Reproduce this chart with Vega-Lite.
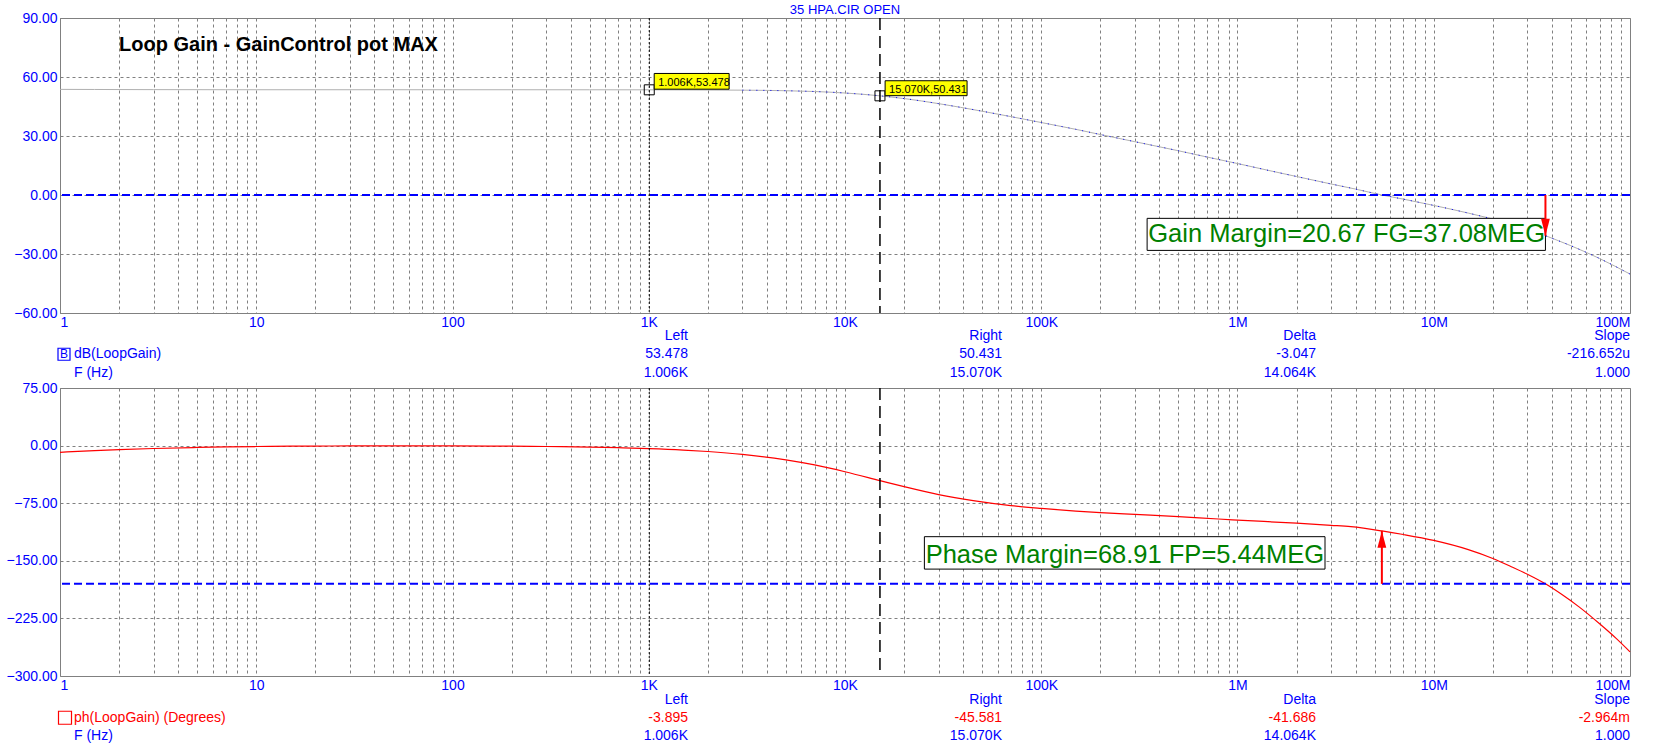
{
  "$schema": "https://vega.github.io/schema/vega-lite/v6.json",
  "background": "white",
  "padding": {"left": 5, "top": 3, "right": 30, "bottom": 0},
  "bounds": "flush",
  "spacing": 0,
  "config": {
    "font": "Liberation Sans",
    "view": {"stroke": "#808080", "strokeWidth": 1},
    "axis": {
      "labelFont": "Liberation Sans",
      "labelFontSize": 14,
      "labelColor": "#0000ff",
      "ticks": false,
      "tickSize": 0,
      "domain": false,
      "gridColor": "#808080",
      "gridDash": [3, 3],
      "gridWidth": 1,
      "gridOpacity": 1,
      "labelOverlap": false
    },
    "text": {"font": "Liberation Sans"}
  },
  "datasets": {
    "gain": [
      {"f": 1, "db": 53.70}, {"f": 1.5, "db": 53.66}, {"f": 2, "db": 53.62}, {"f": 3, "db": 53.58},
      {"f": 5, "db": 53.55}, {"f": 7, "db": 53.53}, {"f": 10, "db": 53.52}, {"f": 20, "db": 53.52},
      {"f": 50, "db": 53.52}, {"f": 100, "db": 53.52}, {"f": 200, "db": 53.52}, {"f": 500, "db": 53.50},
      {"f": 1006, "db": 53.478}, {"f": 1500, "db": 53.43}, {"f": 2000, "db": 53.39}, {"f": 3000, "db": 53.31},
      {"f": 5000, "db": 53.02}, {"f": 7000, "db": 52.62}, {"f": 10000, "db": 51.86}, {"f": 15070, "db": 50.431},
      {"f": 20000, "db": 49.05}, {"f": 30000, "db": 46.45}, {"f": 50000, "db": 42.60}, {"f": 70000, "db": 39.86},
      {"f": 100000, "db": 36.85}, {"f": 150000, "db": 33.40}, {"f": 200000, "db": 30.75}, {"f": 300000, "db": 27.10},
      {"f": 500000, "db": 22.50}, {"f": 700000, "db": 19.30}, {"f": 1000000, "db": 16.00}, {"f": 1500000, "db": 12.10},
      {"f": 2000000, "db": 9.40}, {"f": 3000000, "db": 5.60}, {"f": 4000000, "db": 3.00}, {"f": 5440000, "db": 0.00},
      {"f": 7000000, "db": -2.10}, {"f": 10000000, "db": -5.30}, {"f": 15000000, "db": -9.20}, {"f": 20000000, "db": -12.20},
      {"f": 30000000, "db": -17.00}, {"f": 37080000, "db": -20.67}, {"f": 50000000, "db": -25.80}, {"f": 70000000, "db": -32.30},
      {"f": 100000000, "db": -40.20}
    ],
    "phase": [
      {"f": 1, "deg": -8.7}, {"f": 1.5, "deg": -6.6}, {"f": 2, "deg": -5.3}, {"f": 3, "deg": -3.8},
      {"f": 5, "deg": -2.4}, {"f": 7, "deg": -1.7}, {"f": 10, "deg": -1.2}, {"f": 15, "deg": -0.8},
      {"f": 20, "deg": -0.6}, {"f": 30, "deg": -0.4}, {"f": 50, "deg": -0.3}, {"f": 100, "deg": -0.4},
      {"f": 200, "deg": -0.8}, {"f": 300, "deg": -1.2}, {"f": 500, "deg": -1.9}, {"f": 700, "deg": -2.7},
      {"f": 1006, "deg": -3.895}, {"f": 1500, "deg": -5.8}, {"f": 2000, "deg": -7.7}, {"f": 3000, "deg": -11.4},
      {"f": 5000, "deg": -18.6}, {"f": 7000, "deg": -25.2}, {"f": 10000, "deg": -34.1}, {"f": 15070, "deg": -45.581},
      {"f": 20000, "deg": -53.5}, {"f": 30000, "deg": -63.8}, {"f": 45000, "deg": -71.7}, {"f": 70000, "deg": -78.2},
      {"f": 100000, "deg": -81.8}, {"f": 150000, "deg": -85.2}, {"f": 200000, "deg": -87.3}, {"f": 300000, "deg": -89.6},
      {"f": 500000, "deg": -92.5}, {"f": 800000, "deg": -95.6}, {"f": 1000000, "deg": -97.0}, {"f": 2000000, "deg": -101.0},
      {"f": 3000000, "deg": -103.8}, {"f": 3780000, "deg": -105.6}, {"f": 5440000, "deg": -111.09}, {"f": 7000000, "deg": -115.8},
      {"f": 10000000, "deg": -123.5}, {"f": 15000000, "deg": -135.5}, {"f": 20000000, "deg": -147.0}, {"f": 25000000, "deg": -158.0},
      {"f": 30000000, "deg": -167.5}, {"f": 37080000, "deg": -180.0}, {"f": 45000000, "deg": -194.0}, {"f": 55000000, "deg": -210.0},
      {"f": 70000000, "deg": -232.0}, {"f": 85000000, "deg": -251.0}, {"f": 100000000, "deg": -268.5}
    ],
    "cursors": [
      {"f": 1006, "cursor": "Left"},
      {"f": 15070, "cursor": "Right"}
    ],
    "levels": [
      {"panel": "gain", "level": 0},
      {"panel": "phase", "level": -180}
    ],
    "markers": [
      {"f": 1006, "db": 53.478, "x1": 1066, "x2": 2568, "y1": 53.8, "y2": 61.8, "label": "1.006K,53.478"},
      {"f": 15070, "db": 50.431, "x1": 16010, "x2": 41880, "y1": 50.5, "y2": 58.1, "label": "15.070K,50.431"}
    ],
    "margins": [
      {"panel": "gain", "x1": 346300, "x2": 37080000, "y1": -28.17, "y2": -11.87, "tx": 3600000, "ty": -23.98, "label": "Gain Margin=20.67 FG=37.08MEG", "af": 37080000, "a0": 0, "a1": -20.67},
      {"panel": "phase", "x1": 25380, "x2": 2792000, "y1": -160.8, "y2": -118.6, "tx": 266600, "ty": -153.4, "label": "Phase Margin=68.91 FP=5.44MEG", "af": 5440000, "a0": -180, "a1": -111.09}
    ],
    "notes": [
      {"note": "plot", "f": 2, "db": 73.3, "text": "Loop Gain - GainControl pot MAX"},
      {"note": "file", "f": 10000, "db": 92.0, "text": "35 HPA.CIR OPEN"}
    ],
    "readout": [
      {"panel": "gain", "col": "Left", "row": "hdr", "kind": "header", "text": "Left"},
      {"panel": "gain", "col": "Right", "row": "hdr", "kind": "header", "text": "Right"},
      {"panel": "gain", "col": "Delta", "row": "hdr", "kind": "header", "text": "Delta"},
      {"panel": "gain", "col": "Slope", "row": "hdr", "kind": "header", "text": "Slope"},
      {"panel": "gain", "col": "label", "row": "val", "kind": "gain", "text": "dB(LoopGain)", "icon": "B"},
      {"panel": "gain", "col": "Left", "row": "val", "kind": "gain", "text": "53.478"},
      {"panel": "gain", "col": "Right", "row": "val", "kind": "gain", "text": "50.431"},
      {"panel": "gain", "col": "Delta", "row": "val", "kind": "gain", "text": "-3.047"},
      {"panel": "gain", "col": "Slope", "row": "val", "kind": "gain", "text": "-216.652u"},
      {"panel": "gain", "col": "label", "row": "f", "kind": "freq", "text": "F (Hz)"},
      {"panel": "gain", "col": "Left", "row": "f", "kind": "freq", "text": "1.006K"},
      {"panel": "gain", "col": "Right", "row": "f", "kind": "freq", "text": "15.070K"},
      {"panel": "gain", "col": "Delta", "row": "f", "kind": "freq", "text": "14.064K"},
      {"panel": "gain", "col": "Slope", "row": "f", "kind": "freq", "text": "1.000"},
      {"panel": "phase", "col": "Left", "row": "hdr", "kind": "header", "text": "Left"},
      {"panel": "phase", "col": "Right", "row": "hdr", "kind": "header", "text": "Right"},
      {"panel": "phase", "col": "Delta", "row": "hdr", "kind": "header", "text": "Delta"},
      {"panel": "phase", "col": "Slope", "row": "hdr", "kind": "header", "text": "Slope"},
      {"panel": "phase", "col": "label", "row": "val", "kind": "phase", "text": "ph(LoopGain) (Degrees)", "icon": ""},
      {"panel": "phase", "col": "Left", "row": "val", "kind": "phase", "text": "-3.895"},
      {"panel": "phase", "col": "Right", "row": "val", "kind": "phase", "text": "-45.581"},
      {"panel": "phase", "col": "Delta", "row": "val", "kind": "phase", "text": "-41.686"},
      {"panel": "phase", "col": "Slope", "row": "val", "kind": "phase", "text": "-2.964m"},
      {"panel": "phase", "col": "label", "row": "f", "kind": "freq", "text": "F (Hz)"},
      {"panel": "phase", "col": "Left", "row": "f", "kind": "freq", "text": "1.006K"},
      {"panel": "phase", "col": "Right", "row": "f", "kind": "freq", "text": "15.070K"},
      {"panel": "phase", "col": "Delta", "row": "f", "kind": "freq", "text": "14.064K"},
      {"panel": "phase", "col": "Slope", "row": "f", "kind": "freq", "text": "1.000"}
    ]
  },
  "vconcat": [
    {
      "width": 1570,
      "height": 295,
      "layer": [
        {
          "data": {"name": "gain"},
          "mark": {"type": "line", "color": "#b0b0b0", "strokeWidth": 1, "interpolate": "monotone"},
          "encoding": {
            "x": {
              "field": "f", "type": "quantitative",
              "scale": {"type": "log", "domain": [1, 100000000], "nice": false},
              "axis": {
                "title": null, "grid": true, "labelFlush": true, "labelPadding": 2,
                "values": [1,2,3,4,5,6,7,8,9,10,20,30,40,50,60,70,80,90,100,200,300,400,500,600,700,800,900,1000,2000,3000,4000,5000,6000,7000,8000,9000,10000,20000,30000,40000,50000,60000,70000,80000,90000,100000,200000,300000,400000,500000,600000,700000,800000,900000,1000000,2000000,3000000,4000000,5000000,6000000,7000000,8000000,9000000,10000000,20000000,30000000,40000000,50000000,60000000,70000000,80000000,90000000,100000000],
                "labelExpr": "indexof([1,10,100,1000,10000,100000,1000000,10000000,100000000], datum.value) < 0 ? '' : datum.value >= 1000000 ? (datum.value / 1000000) + 'M' : datum.value >= 1000 ? (datum.value / 1000) + 'K' : '' + datum.value"
              }
            },
            "y": {
              "field": "db", "type": "quantitative",
              "scale": {"domain": [-60, 90], "nice": false, "zero": false},
              "axis": {"title": null, "grid": true, "values": [-60, -30, 0, 30, 60, 90], "format": ".2f", "labelPadding": 3}
            }
          }
        },
        {
          "data": {"name": "gain"},
          "transform": [{"filter": "datum.f >= 3000"}],
          "mark": {"type": "line", "color": "#0000ff", "strokeWidth": 1, "strokeDash": [1, 6], "interpolate": "monotone"},
          "encoding": {
            "x": {"field": "f", "type": "quantitative"},
            "y": {"field": "db", "type": "quantitative"}
          }
        },
        {
          "data": {"name": "levels"},
          "transform": [{"filter": "datum.panel == 'gain'"}],
          "mark": {"type": "rule", "color": "#0000ff", "strokeWidth": 2, "strokeDash": [8, 4]},
          "encoding": {"y": {"field": "level", "type": "quantitative"}}
        },
        {
          "data": {"name": "cursors"},
          "transform": [{"filter": "datum.cursor == 'Left'"}],
          "mark": {"type": "rule", "color": "#000000", "strokeWidth": 1, "strokeDash": [2, 2]},
          "encoding": {"x": {"field": "f", "type": "quantitative"}}
        },
        {
          "data": {"name": "cursors"},
          "transform": [{"filter": "datum.cursor == 'Right'"}],
          "mark": {"type": "rule", "color": "#000000", "strokeWidth": 1.5, "strokeDash": [12, 6]},
          "encoding": {"x": {"field": "f", "type": "quantitative"}}
        },
        {
          "data": {"name": "markers"},
          "mark": {"type": "point", "shape": "square", "size": 100, "filled": false, "color": "#000000", "strokeWidth": 1, "opacity": 1},
          "encoding": {
            "x": {"field": "f", "type": "quantitative"},
            "y": {"field": "db", "type": "quantitative"}
          }
        },
        {
          "data": {"name": "markers"},
          "mark": {"type": "rect", "fill": "#ffff00", "stroke": "#000000", "strokeWidth": 1},
          "encoding": {
            "x": {"field": "x1", "type": "quantitative"},
            "x2": {"field": "x2"},
            "y": {"field": "y1", "type": "quantitative"},
            "y2": {"field": "y2"}
          }
        },
        {
          "data": {"name": "markers"},
          "mark": {"type": "text", "align": "left", "baseline": "alphabetic", "dx": 4, "dy": -3, "fontSize": 11, "color": "#000000"},
          "encoding": {
            "x": {"field": "x1", "type": "quantitative"},
            "y": {"field": "y1", "type": "quantitative"},
            "text": {"field": "label"}
          }
        },
        {
          "data": {"name": "notes"},
          "transform": [{"filter": "datum.note == 'plot'"}],
          "mark": {"type": "text", "align": "left", "baseline": "alphabetic", "fontSize": 20, "fontWeight": "bold", "color": "#000000"},
          "encoding": {
            "x": {"field": "f", "type": "quantitative"},
            "y": {"field": "db", "type": "quantitative"},
            "text": {"field": "text"}
          }
        },
        {
          "data": {"name": "notes"},
          "transform": [{"filter": "datum.note == 'file'"}],
          "mark": {"type": "text", "align": "center", "baseline": "alphabetic", "fontSize": 13, "color": "#0000ff", "clip": false},
          "encoding": {
            "x": {"field": "f", "type": "quantitative"},
            "y": {"field": "db", "type": "quantitative"},
            "text": {"field": "text"}
          }
        },
        {
          "data": {"name": "margins"},
          "transform": [{"filter": "datum.panel == 'gain'"}],
          "mark": {"type": "rect", "fill": "#ffffff", "stroke": "#000000", "strokeWidth": 1},
          "encoding": {
            "x": {"field": "x1", "type": "quantitative"},
            "x2": {"field": "x2"},
            "y": {"field": "y1", "type": "quantitative"},
            "y2": {"field": "y2"}
          }
        },
        {
          "data": {"name": "margins"},
          "transform": [{"filter": "datum.panel == 'gain'"}],
          "mark": {"type": "text", "align": "center", "baseline": "alphabetic", "fontSize": 25.5, "color": "#008000"},
          "encoding": {
            "x": {"field": "tx", "type": "quantitative"},
            "y": {"field": "ty", "type": "quantitative"},
            "text": {"field": "label"}
          }
        },
        {
          "data": {"name": "margins"},
          "transform": [{"filter": "datum.panel == 'gain'"}],
          "mark": {"type": "rule", "color": "#ff0000", "strokeWidth": 2},
          "encoding": {
            "x": {"field": "af", "type": "quantitative"},
            "y": {"field": "a0", "type": "quantitative"},
            "y2": {"field": "a1"}
          }
        },
        {
          "data": {"name": "margins"},
          "transform": [{"filter": "datum.panel == 'gain'"}],
          "mark": {"type": "point", "shape": "M0,0L-0.55,-2.1L0.55,-2.1Z", "size": 256, "filled": true, "color": "#ff0000", "opacity": 1},
          "encoding": {
            "x": {"field": "af", "type": "quantitative"},
            "y": {"field": "a1", "type": "quantitative"}
          }
        }
      ]
    },
    {
      "width": 1570,
      "height": 75,
      "view": {"stroke": null},
      "data": {"name": "readout"},
      "transform": [{"filter": "datum.panel == 'gain'"}],
      "encoding": {
        "x": {"field": "col", "type": "nominal", "scale": {"type": "point", "domain": ["label", "gap", "Left", "Right", "Delta", "Slope"], "padding": 0}, "axis": null},
        "y": {"field": "row", "type": "nominal", "scale": {"type": "point", "domain": ["hdr", "val", "f"], "padding": 1.4, "align": 0.6}, "axis": null},
        "color": {"field": "kind", "type": "nominal", "scale": {"domain": ["header", "gain", "phase", "freq"], "range": ["#0000ff", "#0000ff", "#ff0000", "#0000ff"]}, "legend": null}
      },
      "layer": [
        {
          "transform": [{"filter": "datum.col != 'label'"}],
          "mark": {"type": "text", "align": "right", "baseline": "middle", "fontSize": 14},
          "encoding": {"text": {"field": "text"}}
        },
        {
          "transform": [{"filter": "datum.col == 'label'"}],
          "mark": {"type": "text", "align": "left", "baseline": "middle", "fontSize": 14, "dx": 14},
          "encoding": {"text": {"field": "text"}}
        },
        {
          "transform": [{"filter": "isValid(datum.icon)"}],
          "mark": {"type": "point", "shape": "square", "size": 144, "filled": false, "strokeWidth": 1.2, "xOffset": 4, "opacity": 1}
        },
        {
          "transform": [{"filter": "isValid(datum.icon)"}],
          "mark": {"type": "text", "align": "center", "baseline": "middle", "fontSize": 12, "dx": 4},
          "encoding": {"text": {"field": "icon"}}
        }
      ]
    },
    {
      "width": 1570,
      "height": 288,
      "layer": [
        {
          "data": {"name": "phase"},
          "mark": {"type": "line", "color": "#ff0000", "strokeWidth": 1.2, "interpolate": "monotone"},
          "encoding": {
            "x": {
              "field": "f", "type": "quantitative",
              "scale": {"type": "log", "domain": [1, 100000000], "nice": false},
              "axis": {
                "title": null, "grid": true, "labelFlush": true, "labelPadding": 2,
                "values": [1,2,3,4,5,6,7,8,9,10,20,30,40,50,60,70,80,90,100,200,300,400,500,600,700,800,900,1000,2000,3000,4000,5000,6000,7000,8000,9000,10000,20000,30000,40000,50000,60000,70000,80000,90000,100000,200000,300000,400000,500000,600000,700000,800000,900000,1000000,2000000,3000000,4000000,5000000,6000000,7000000,8000000,9000000,10000000,20000000,30000000,40000000,50000000,60000000,70000000,80000000,90000000,100000000],
                "labelExpr": "indexof([1,10,100,1000,10000,100000,1000000,10000000,100000000], datum.value) < 0 ? '' : datum.value >= 1000000 ? (datum.value / 1000000) + 'M' : datum.value >= 1000 ? (datum.value / 1000) + 'K' : '' + datum.value"
              }
            },
            "y": {
              "field": "deg", "type": "quantitative",
              "scale": {"domain": [-300, 75], "nice": false, "zero": false},
              "axis": {"title": null, "grid": true, "values": [-300, -225, -150, -75, 0, 75], "format": ".2f", "labelPadding": 3}
            }
          }
        },
        {
          "data": {"name": "levels"},
          "transform": [{"filter": "datum.panel == 'phase'"}],
          "mark": {"type": "rule", "color": "#0000ff", "strokeWidth": 2, "strokeDash": [8, 4]},
          "encoding": {"y": {"field": "level", "type": "quantitative"}}
        },
        {
          "data": {"name": "cursors"},
          "transform": [{"filter": "datum.cursor == 'Left'"}],
          "mark": {"type": "rule", "color": "#000000", "strokeWidth": 1, "strokeDash": [2, 2]},
          "encoding": {"x": {"field": "f", "type": "quantitative"}}
        },
        {
          "data": {"name": "cursors"},
          "transform": [{"filter": "datum.cursor == 'Right'"}],
          "mark": {"type": "rule", "color": "#000000", "strokeWidth": 1.5, "strokeDash": [12, 6]},
          "encoding": {"x": {"field": "f", "type": "quantitative"}}
        },
        {
          "data": {"name": "margins"},
          "transform": [{"filter": "datum.panel == 'phase'"}],
          "mark": {"type": "rect", "fill": "#ffffff", "stroke": "#000000", "strokeWidth": 1},
          "encoding": {
            "x": {"field": "x1", "type": "quantitative"},
            "x2": {"field": "x2"},
            "y": {"field": "y1", "type": "quantitative"},
            "y2": {"field": "y2"}
          }
        },
        {
          "data": {"name": "margins"},
          "transform": [{"filter": "datum.panel == 'phase'"}],
          "mark": {"type": "text", "align": "center", "baseline": "alphabetic", "fontSize": 25.5, "color": "#008000"},
          "encoding": {
            "x": {"field": "tx", "type": "quantitative"},
            "y": {"field": "ty", "type": "quantitative"},
            "text": {"field": "label"}
          }
        },
        {
          "data": {"name": "margins"},
          "transform": [{"filter": "datum.panel == 'phase'"}],
          "mark": {"type": "rule", "color": "#ff0000", "strokeWidth": 2},
          "encoding": {
            "x": {"field": "af", "type": "quantitative"},
            "y": {"field": "a0", "type": "quantitative"},
            "y2": {"field": "a1"}
          }
        },
        {
          "data": {"name": "margins"},
          "transform": [{"filter": "datum.panel == 'phase'"}],
          "mark": {"type": "point", "shape": "M0,0L-0.55,2.1L0.55,2.1Z", "size": 256, "filled": true, "color": "#ff0000", "opacity": 1},
          "encoding": {
            "x": {"field": "af", "type": "quantitative"},
            "y": {"field": "a1", "type": "quantitative"}
          }
        }
      ]
    },
    {
      "width": 1570,
      "height": 72,
      "view": {"stroke": null},
      "data": {"name": "readout"},
      "transform": [{"filter": "datum.panel == 'phase'"}],
      "encoding": {
        "x": {"field": "col", "type": "nominal", "scale": {"type": "point", "domain": ["label", "gap", "Left", "Right", "Delta", "Slope"], "padding": 0}, "axis": null},
        "y": {"field": "row", "type": "nominal", "scale": {"type": "point", "domain": ["hdr", "val", "f"], "padding": 1.3, "align": 0.66}, "axis": null},
        "color": {"field": "kind", "type": "nominal", "scale": {"domain": ["header", "gain", "phase", "freq"], "range": ["#0000ff", "#0000ff", "#ff0000", "#0000ff"]}, "legend": null}
      },
      "layer": [
        {
          "transform": [{"filter": "datum.col != 'label'"}],
          "mark": {"type": "text", "align": "right", "baseline": "middle", "fontSize": 14},
          "encoding": {"text": {"field": "text"}}
        },
        {
          "transform": [{"filter": "datum.col == 'label'"}],
          "mark": {"type": "text", "align": "left", "baseline": "middle", "fontSize": 14, "dx": 14},
          "encoding": {"text": {"field": "text"}}
        },
        {
          "transform": [{"filter": "isValid(datum.icon)"}],
          "mark": {"type": "point", "shape": "square", "size": 169, "filled": false, "strokeWidth": 1.2, "xOffset": 5, "opacity": 1}
        }
      ]
    }
  ]
}
